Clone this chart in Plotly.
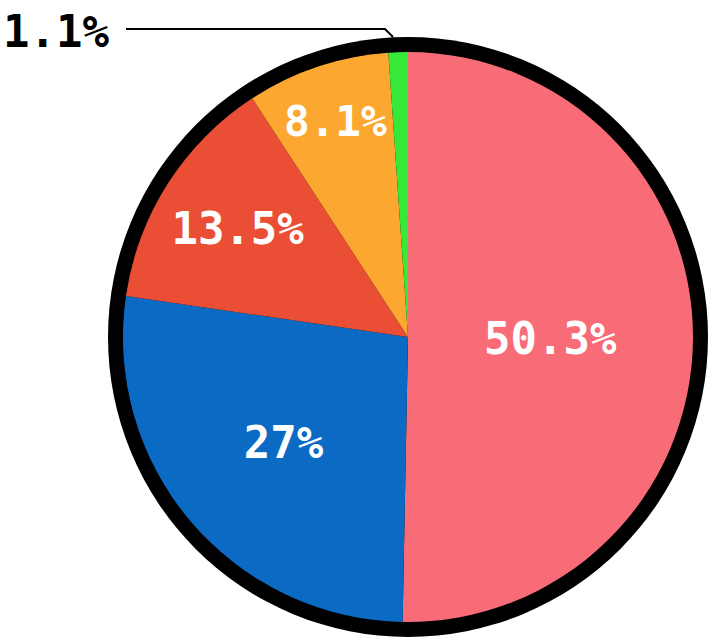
import plotly.graph_objects as go

labels = ["A", "B", "C", "D", "E"]
values = [50.3, 27, 13.5, 8.1, 1.1]
text_labels = ["50.3%", "27%", "13.5%", "8.1%", ""]
outside_label = "1.1%"
colors = ["#F76C76", "#0B6AC3", "#EA4F36", "#FCA830", "#36E838"]

W, H = 710, 639
cx, cy = 408, 337


def px_x(x):
    return x / W


def px_y(y):
    return 1 - y / H


fig = go.Figure()
# black ring behind the pie
fig.add_trace(go.Pie(
    values=[1],
    marker=dict(colors=["#000000"], line=dict(width=0)),
    textinfo="none",
    hoverinfo="skip",
    sort=False,
    domain=dict(x=[px_x(cx - 300), px_x(cx + 300)], y=[px_y(cy + 300), px_y(cy - 300)]),
    showlegend=False,
))
fig.add_trace(go.Pie(
    labels=labels,
    values=values,
    text=text_labels,
    textinfo="text",
    textposition="inside",
    insidetextorientation="horizontal",
    insidetextfont=dict(family="DejaVu Sans Mono", size=44, color="white", weight="bold"),
    marker=dict(colors=colors, line=dict(width=0)),
    sort=False,
    direction="clockwise",
    rotation=0,
    domain=dict(x=[px_x(cx - 285), px_x(cx + 285)], y=[px_y(cy + 285), px_y(cy - 285)]),
    showlegend=False,
))

fig.add_shape(
    type="path",
    xref="paper", yref="paper",
    path=f"M {px_x(126)} {px_y(29)} L {px_x(385)} {px_y(29)} L {px_x(393)} {px_y(37)}",
    line=dict(color="black", width=2),
)
fig.add_annotation(
    text=outside_label,
    xref="paper", yref="paper",
    x=px_x(111), y=px_y(31),
    xanchor="right", yanchor="middle",
    showarrow=False,
    font=dict(family="DejaVu Sans Mono", size=44, color="black", weight="bold"),
)

fig.update_layout(
    width=W, height=H,
    margin=dict(l=0, r=0, t=0, b=0),
    paper_bgcolor="white",
    plot_bgcolor="white",
)
fig.write_html(
    "out.html",
    config={"displayModeBar": False},
    post_script="document.body.style.margin='0';",
)
